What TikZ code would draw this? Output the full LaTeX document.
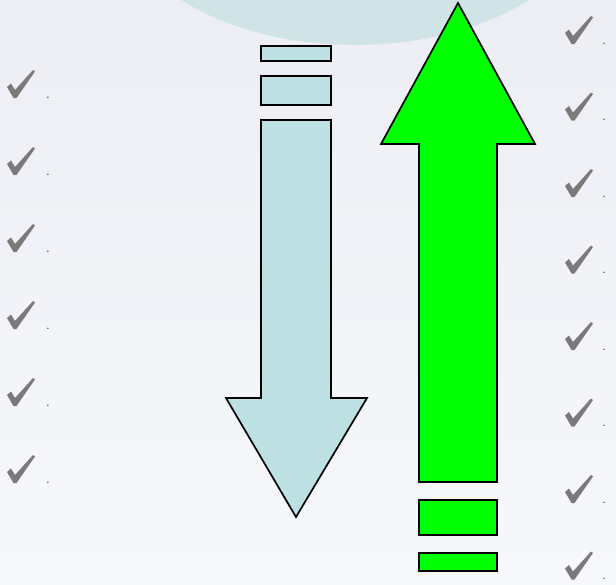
\documentclass[tikz,border=0pt]{standalone}
\usetikzlibrary{calc}
\definecolor{bgtop}{HTML}{ECEEF4}
\definecolor{bgbot}{HTML}{F7F8FB}
\definecolor{teal}{HTML}{D0E4E7}
\definecolor{paleblue}{HTML}{BDE0E2}
\definecolor{brightgreen}{HTML}{00FF00}
\definecolor{checkgray}{HTML}{7A7A7A}
\tikzset{
  arrowshape/.style={draw=black, line width=1.7pt, line join=miter},
  bluefill/.style={arrowshape, fill=paleblue},
  greenfill/.style={arrowshape, fill=brightgreen},
  dotlabel/.style={inner sep=0pt, font=\fontsize{17}{17}\selectfont, text=black!80},
  checkmark/.pic={
    \fill[checkgray] (0,17) -- (4,13.5) -- (8,20) -- (26,0) -- (28,1.5) -- (9.5,28) -- (6.5,28) -- cycle;
  }
}
\begin{document}
\begin{tikzpicture}[x=1pt,y=-1pt]
\useasboundingbox (0,0) rectangle (616,584);
% background
\shade[top color=bgtop, bottom color=bgbot] (0,0) rectangle (616,584);
\begin{scope}
  \clip (0,0) rectangle (616,584);
  \fill[teal] (355,-100) ellipse [x radius=240, y radius=145];
\end{scope}
% blue down arrow
\draw[bluefill] (261,46) rectangle (331,61);
\draw[bluefill] (261,76) rectangle (331,105);
\draw[bluefill] (261,120) -- (331,120) -- (331,398) -- (367,398) -- (296,517)
  -- (226,398) -- (261,398) -- cycle;
% green up arrow
\draw[greenfill] (458,3) -- (535,144) -- (497,144) -- (497,482) -- (419,482)
  -- (419,144) -- (381,144) -- cycle;
\draw[greenfill] (419,500) rectangle (497,535);
\draw[greenfill] (419,553) rectangle (497,571);
% left checks
\foreach \i in {0,...,5}{
  \pic at (7,{70+77*\i}) {checkmark};
  \node[dotlabel, anchor=base] (ld\i) at (48,{98+77*\i}) {.};
}
% right checks
\foreach \i in {0,...,7}{
  \pic at (565,{16+76.5*\i}) {checkmark};
  \node[dotlabel, anchor=base] (rd\i) at (604,{44+76.5*\i}) {.};
}
\end{tikzpicture}
\end{document}
